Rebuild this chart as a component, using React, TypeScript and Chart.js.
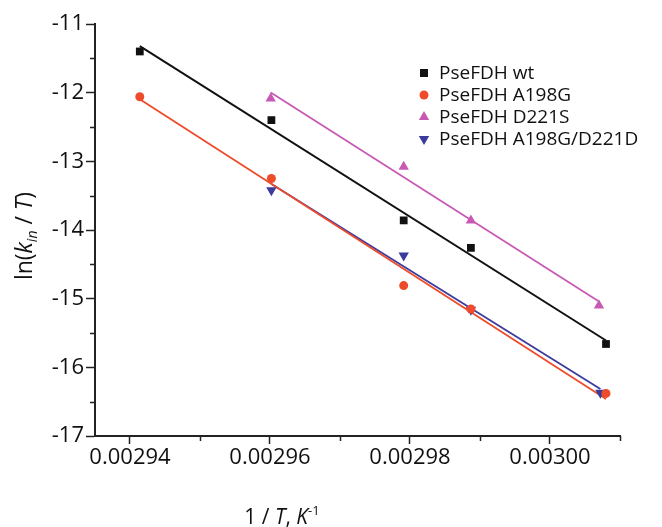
import React, { useEffect, useRef } from 'react';
import { Chart, registerables } from 'chart.js';

Chart.register(...registerables);

// ---- data ----
const seriesLabels = ['PseFDH wt', 'PseFDH A198G', 'PseFDH D221S', 'PseFDH A198G/D221D'];

const wtX = [0.0029414, 0.0029602, 0.0029791, 0.0029887, 0.0030080];
const wtY = [-11.40, -12.40, -13.86, -14.26, -15.66];

const a198gX = [0.0029414, 0.0029602, 0.0029791, 0.0029887, 0.0030080];
const a198gY = [-12.06, -13.25, -14.81, -15.15, -16.38];

const d221sX = [0.0029601, 0.0029791, 0.0029887, 0.0030070];
const d221sY = [-12.085, -13.08, -13.86, -15.10];

const dblX = [0.0029602, 0.0029791, 0.0029887, 0.0030072];
const dblY = [-13.42, -14.37, -15.16, -16.37];

const xMajorTicks = [0.00294, 0.00296, 0.00298, 0.003];
const xMinorTicks = [0.00295, 0.00297, 0.00299, 0.00301];
const yMinorTicks = [-16.5, -15.5, -14.5, -13.5, -12.5, -11.5];

const X_MIN = 0.002935;
const X_MAX = 0.00301;
const Y_MIN = -17;
const Y_MAX = -11;

// ---- styles ----
const colors = ['#111111', '#ee4b2b', '#c85ab4', '#3b3b9e'];
const pointStyles = ['rect', 'circle', 'triangle', 'triangle'];
const pointRotations = [0, 0, 0, 180];
const pointRadii = [5.5, 4.5, 6, 6];
const FONT = "'Open Sans', 'Noto Sans', sans-serif";
const AXIS = '#222222';

function pts(xs: number[], ys: number[]) {
  return xs.map((x, i) => ({ x, y: ys[i] }));
}

function fitLine(xs: number[], ys: number[]) {
  const n = xs.length;
  const mx = xs.reduce((a, b) => a + b, 0) / n;
  const my = ys.reduce((a, b) => a + b, 0) / n;
  let sxy = 0;
  let sxx = 0;
  for (let i = 0; i < n; i++) {
    sxy += (xs[i] - mx) * (ys[i] - my);
    sxx += (xs[i] - mx) * (xs[i] - mx);
  }
  const k = sxy / sxx;
  const x0 = Math.min(...xs);
  const x1 = Math.max(...xs);
  return [
    { x: x0, y: my + k * (x0 - mx) },
    { x: x1, y: my + k * (x1 - mx) },
  ];
}

type Seg = { t: string; it?: boolean; s?: number; dy?: number };

function drawRich(ctx: CanvasRenderingContext2D, segs: Seg[], x: number, y: number, base: number) {
  const fontOf = (sg: Seg) => `${sg.it ? 'italic ' : ''}${sg.s ?? base}px ${FONT}`;
  let total = 0;
  for (const sg of segs) {
    ctx.font = fontOf(sg);
    total += ctx.measureText(sg.t).width;
  }
  let cx = x - total / 2;
  ctx.textAlign = 'left';
  ctx.textBaseline = 'alphabetic';
  for (const sg of segs) {
    ctx.font = fontOf(sg);
    ctx.fillText(sg.t, cx, y + (sg.dy ?? 0));
    cx += ctx.measureText(sg.t).width;
  }
}

function drawMarker(ctx: CanvasRenderingContext2D, i: number, x: number, y: number) {
  ctx.fillStyle = colors[i];
  ctx.beginPath();
  if (i === 0) {
    ctx.rect(x - 4, y - 4, 8, 8);
  } else if (i === 1) {
    ctx.arc(x, y, 4.5, 0, Math.PI * 2);
  } else {
    const r = 6;
    const dir = i === 2 ? -1 : 1;
    ctx.moveTo(x, y + dir * r);
    ctx.lineTo(x + r * 0.866, y - dir * r * 0.5);
    ctx.lineTo(x - r * 0.866, y - dir * r * 0.5);
    ctx.closePath();
  }
  ctx.fill();
}

const overlayPlugin = {
  id: 'overlay',
  afterDraw(chart: any) {
    const ctx: CanvasRenderingContext2D = chart.ctx;
    const xs = chart.scales.x;
    const ys = chart.scales.y;
    const ca = chart.chartArea;
    ctx.save();
    // minor ticks
    ctx.strokeStyle = AXIS;
    ctx.lineWidth = 1.5;
    ctx.beginPath();
    for (const v of yMinorTicks) {
      const p = Math.round(ys.getPixelForValue(v)) + 0.5;
      ctx.moveTo(ca.left - 5, p);
      ctx.lineTo(ca.left, p);
    }
    for (const v of xMinorTicks) {
      const p = Math.round(xs.getPixelForValue(v)) + 0.5;
      ctx.moveTo(p, ca.bottom);
      ctx.lineTo(p, ca.bottom + 5);
    }
    ctx.stroke();

    // legend
    seriesLabels.forEach((lab, i) => {
      const y = 73 + i * 22;
      drawMarker(ctx, i, 424, y);
      ctx.fillStyle = '#111';
      ctx.font = `19px ${FONT}`;
      ctx.textBaseline = 'middle';
      ctx.textAlign = 'left';
      ctx.fillText(lab, 439, y + 1);
    });

    // axis titles
    ctx.fillStyle = '#111';
    drawRich(
      ctx,
      [
        { t: '1 / ' },
        { t: 'T', it: true },
        { t: ', ' },
        { t: 'K', it: true },
        { t: '-1', s: 13, dy: -9 },
      ],
      282,
      524,
      21
    );
    ctx.save();
    ctx.translate(32, 236);
    ctx.rotate(-Math.PI / 2);
    drawRich(
      ctx,
      [
        { t: 'ln(' },
        { t: 'k', it: true },
        { t: 'in', it: true, s: 14, dy: 5 },
        { t: ' / ' },
        { t: 'T', it: true },
        { t: ')' },
      ],
      0,
      0,
      23
    );
    ctx.restore();
    ctx.restore();
  },
};

export default function App() {
  const ref = useRef<HTMLCanvasElement | null>(null);

  useEffect(() => {
    if (!ref.current) return;
    const xsList = [wtX, a198gX, d221sX, dblX];
    const ysList = [wtY, a198gY, d221sY, dblY];
    const pointSets = xsList.map((xs, i) => ({
      label: seriesLabels[i],
      data: pts(xs, ysList[i]),
      showLine: false,
      pointStyle: pointStyles[i],
      rotation: pointRotations[i],
      pointRadius: pointRadii[i],
      pointBackgroundColor: colors[i],
      pointBorderColor: colors[i],
      pointBorderWidth: 0,
      order: 0,
    }));
    const lineSets = xsList.map((xs, i) => ({
      label: seriesLabels[i] + ' fit',
      data: fitLine(xs, ysList[i]),
      showLine: true,
      borderColor: colors[i],
      borderWidth: i === 0 ? 2 : 1.8,
      pointRadius: 0,
      fill: false,
      order: 1,
    }));

    const chart = new Chart(ref.current, {
      type: 'scatter',
      data: { datasets: [...lineSets, ...pointSets] as any },
      options: {
        responsive: false,
        animation: false,
        layout: { padding: { top: 24, right: 42, left: 0, bottom: 0 } },
        plugins: {
          legend: { display: false },
          tooltip: { enabled: false },
        },
        scales: {
          x: {
            type: 'linear',
            min: X_MIN,
            max: X_MAX,
            afterBuildTicks: (s: any) => {
              s.ticks = xMajorTicks.map((v) => ({ value: v }));
            },
            afterFit: (s: any) => {
              s.height = 91;
            },
            grid: {
              drawOnChartArea: false,
              drawTicks: true,
              tickLength: 8,
              tickColor: AXIS,
              tickWidth: 1.5,
            },
            border: { display: true, color: AXIS, width: 2 },
            ticks: {
              color: '#111',
              font: { family: FONT, size: 22 },
              padding: 1,
              maxRotation: 0,
              autoSkip: false,
              callback: (v: any) => Number(v).toFixed(5),
            },
          },
          y: {
            type: 'linear',
            min: Y_MIN,
            max: Y_MAX,
            afterBuildTicks: (s: any) => {
              const t = [];
              for (let v = Y_MIN; v <= Y_MAX; v++) t.push({ value: v });
              s.ticks = t;
            },
            afterFit: (s: any) => {
              s.width = 95;
            },
            grid: {
              drawOnChartArea: false,
              drawTicks: true,
              tickLength: 9,
              tickColor: AXIS,
              tickWidth: 1.5,
            },
            border: { display: true, color: AXIS, width: 2 },
            ticks: {
              color: '#111',
              font: { family: FONT, size: 22 },
              padding: 2,
              autoSkip: false,
              callback: (v: any) => String(v),
            },
          },
        },
      },
      plugins: [overlayPlugin],
    });
    return () => chart.destroy();
  }, []);

  return (
    <div style={{ position: 'fixed', left: 0, top: 0, width: 662, height: 527, background: '#fff' }}>
      <canvas ref={ref} width={662} height={527} />
    </div>
  );
}
